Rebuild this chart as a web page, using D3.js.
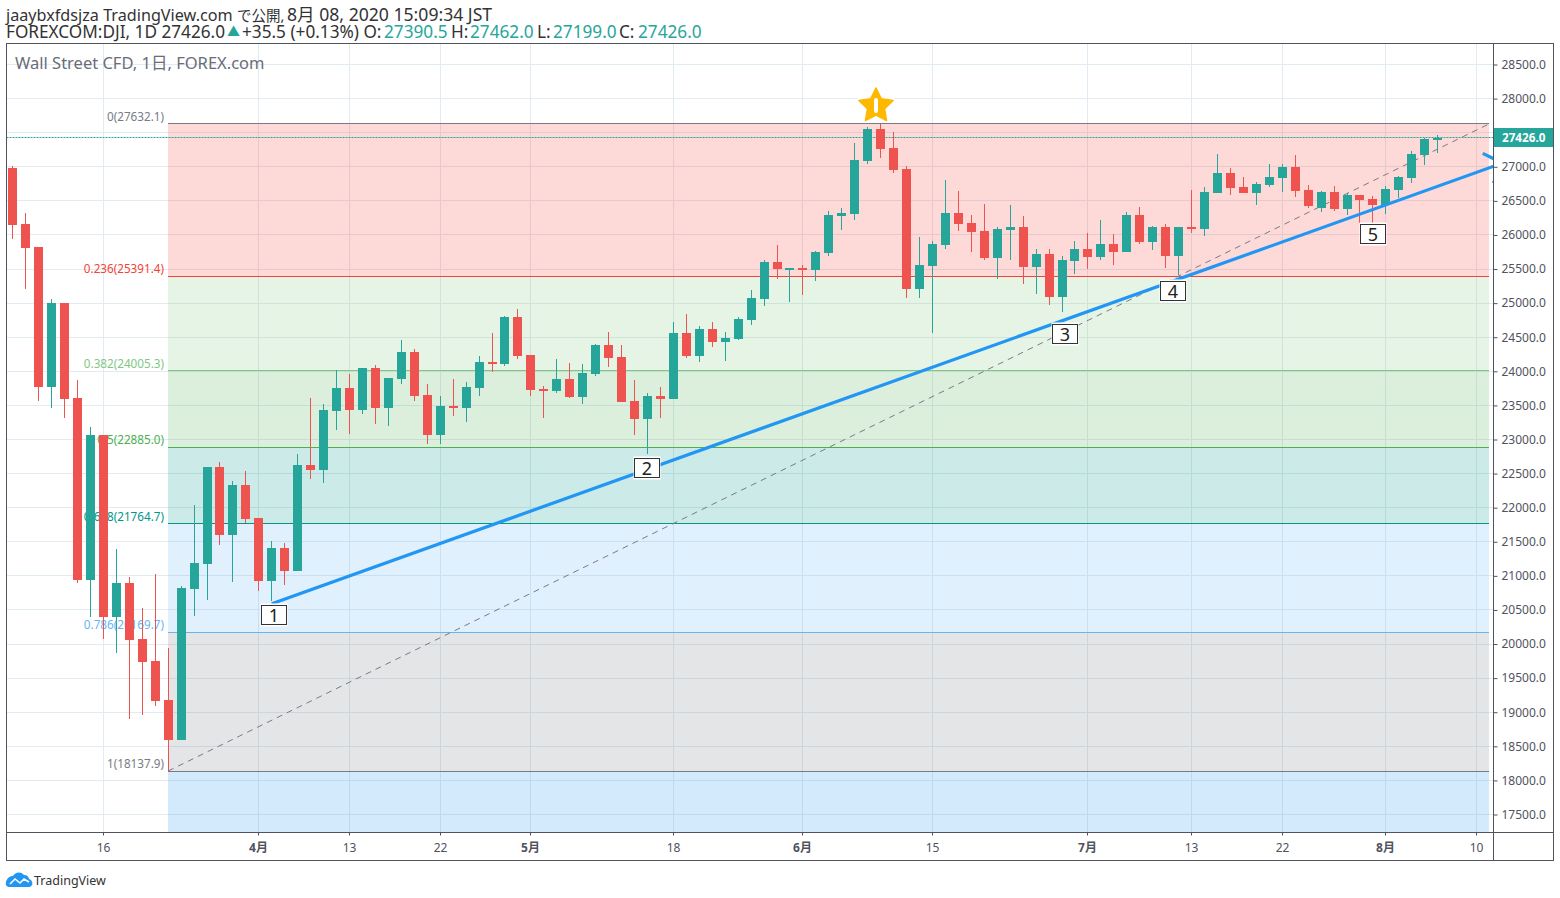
<!DOCTYPE html>
<html>
<head>
<meta charset="utf-8">
<script src="https://cdn.jsdelivr.net/npm/d3@7"></script>
<style>
html, body { margin: 0; padding: 0; background: #fff; }
svg { display: block; }
text { font-family: "Noto Sans", "Noto Sans CJK JP", sans-serif; }
</style>
</head>
<body>
<div id="viz"></div>
<script>
// candles, one per trading day, index 0 is 5 Mar 2020
var opens = [
  26980,26160,25825,23775,25000,23610,20940,23065,20400,20895,
  20075,19750,19180,18595,20810,21175,22595,21600,22335,21850,
  20925,21410,21070,22625,22555,23420,23755,23435,24050,23460,
  23885,24285,23655,23065,23490,23460,23755,24135,24105,24795,
  24240,23740,23710,23885,23625,23960,24385,24210,23565,23300,
  23640,23595,24560,24225,24620,24430,24475,24750,25060,25605,
  25500,25515,25485,25735,26275,26305,27085,27555,27275,26965,
  25205,25545,25850,26320,26175,26055,25660,26070,26115,25530,
  25720,25090,25615,25795,25675,25865,25750,26290,25895,26115,
  25690,26115,26085,26615,26910,26700,26615,26730,26835,26995,
  26660,26395,26630,26380,26585,26525,26440,26660,26835,27170,27390.5
];
var highs = [
  27010,26325,25825,25060,25000,23875,23185,23065,21395,20985,
  20530,21030,19945,20850,22040,22595,22670,22390,22540,21850,
  21510,21480,22785,23610,23520,24020,23960,24050,24090,23900,
  24460,24325,23815,23640,23885,23845,24225,24560,24810,24915,
  24240,23785,24180,24120,24105,24400,24575,24385,23875,23680,
  23770,24725,24840,24665,24725,24575,24795,25190,25630,25850,
  25515,25560,25765,26350,26395,27350,27580,27632,27510,27010,
  25970,25910,26805,26645,26290,26455,26115,26440,26275,25795,
  25795,25690,25910,26030,26220,26015,26335,26410,26130,26160,
  26115,26660,26700,27185,26980,26850,26775,27040,27040,27170,
  26730,26645,26715,26615,26585,26570,26715,26865,27230,27420,27462
];
var lows = [
  25940,25205,23565,23465,23320,20895,20400,20075,19875,18900,
  18960,19090,18138,18595,20415,20645,21455,20910,21775,20780,
  20630,20865,21070,22420,22360,23140,23080,23375,23225,23200,
  23815,23565,22935,22935,23345,23255,23640,23990,24080,24180,
  23640,23315,23680,23610,23520,23930,24065,23550,23065,22785,
  23315,23595,24195,24135,24355,24150,24460,24680,24960,25355,
  25015,25120,25325,25690,26070,26220,27040,27130,26910,25075,
  25075,24560,25795,26055,25750,25630,25355,25630,25280,25135,
  24970,24870,25425,25500,25630,25560,25750,25865,25780,25515,
  25410,26030,25985,26615,26585,26615,26440,26700,26630,26555,
  26395,26335,26350,26290,26175,26175,26305,26540,26760,27025,27199
];
var closes = [
  26145,25810,23775,25000,23595,20940,23065,20400,20895,20060,
  19735,19165,18595,20825,21190,22595,21600,22335,21835,20925,
  21410,21070,22625,22555,23435,23755,23435,24050,23460,23900,
  24285,23640,23065,23490,23460,23770,24135,24105,24795,24225,
  23725,23710,23885,23625,23975,24385,24195,23550,23300,23640,
  23595,24560,24225,24620,24430,24490,24765,25075,25605,25500,
  25515,25485,25750,26290,26320,27100,27555,27260,26950,25205,
  25560,25865,26320,26160,26045,25660,26085,26115,25530,25720,
  25090,25630,25795,25675,25865,25750,26290,25895,26115,25690,
  26115,26085,26630,26910,26690,26615,26745,26850,26995,26645,
  26425,26630,26380,26585,26510,26440,26675,26850,27185,27405,27426
];

var priceTicks = [17500,18000,18500,19000,19500,20000,20500,21000,21500,22000,22500,
  23000,23500,24000,24500,25000,25500,26000,26500,27000,27500,28000,28500];
var dateTickIdx = [7,19,26,33,40,51,61,71,83,91,98,106,113];
var dateTickLabels = ["16","4月","13","22","5月","18","6月","15","7月","13","22","8月","10"];

// fib retracement
var fibRatios = [0,0.236,0.382,0.5,0.618,0.786,1];
var fibPrices = [27632.1,25391.4,24005.3,22885.0,21764.7,20169.7,18137.9];
var fibColors = ["#787b86","#f44336","#81c784","#4caf50","#009688","#64b5f6","#787b86"];
var fibFills = ["#f44336","#81c784","#4caf50","#009688","#64b5f6","#787b86","#2196f3"];
var fibStart = 12, fibEnd = 114;

// hand drawn wave line and its numbered labels
var trendIdx = [20,115];
var trendPrice = [20590,27054];
var waveText = ["1","2","3","4","5"];
var waveIdx = [20.2,49,81.2,89.6,105];
var wavePrice = [20427,22582,24547,25178,26013];

var lastPrice = 27426.0;

var W = 1560, H = 898;
var paneL = 6.5, paneT = 43.5, paneR = 1493.5, paneB = 832.5, outerR = 1553.5, outerB = 860.5;

var x = d3.scaleLinear().domain([0,110]).range([12.7,1437.7]);
var y = d3.scaleLinear().domain([17500,28500]).range([814.5,64.5]);

function crisp(v) { return Math.floor(v) + 0.5; }

var svg = d3.select("#viz").append("svg").attr("width",W).attr("height",H);
svg.append("defs").append("clipPath").attr("id","pane").append("rect")
  .attr("x",paneL).attr("y",paneT).attr("width",paneR-paneL).attr("height",paneB-paneT);

var pane = svg.append("g").attr("clip-path","url(#pane)");

// grid
pane.selectAll(".gy").data(priceTicks).enter().append("line")
  .attr("x1",paneL).attr("x2",paneR)
  .attr("y1",function(d){return crisp(y(d));}).attr("y2",function(d){return crisp(y(d));})
  .attr("stroke","#e1ecf2");
pane.selectAll(".gx").data(dateTickIdx).enter().append("line")
  .attr("y1",paneT).attr("y2",paneB)
  .attr("x1",function(d){return crisp(x(d));}).attr("x2",function(d){return crisp(x(d));})
  .attr("stroke","#e1ecf2");

// fib bands, the last one runs on below the 1 level
var fibX0 = Math.round(x(fibStart)), fibX1 = Math.floor(x(fibEnd));
pane.selectAll(".band").data(fibPrices).enter().append("rect")
  .attr("x",fibX0).attr("width",fibX1-fibX0)
  .attr("y",function(d){return crisp(y(d));})
  .attr("height",function(d,i){
    var next = i+1 < fibPrices.length ? crisp(y(fibPrices[i+1])) : paneB;
    return next - crisp(y(d));
  })
  .attr("fill",function(d,i){return fibFills[i];})
  .attr("fill-opacity",0.2);
pane.selectAll(".fibline").data(fibPrices).enter().append("line")
  .attr("x1",fibX0).attr("x2",fibX1)
  .attr("y1",function(d){return crisp(y(d));}).attr("y2",function(d){return crisp(y(d));})
  .attr("stroke",function(d,i){return fibColors[i];});
pane.selectAll(".fibtext").data(fibPrices).enter().append("text")
  .attr("x",fibX0-4).attr("y",function(d){return y(d)-3;})
  .attr("text-anchor","end").attr("font-size",11.7)
  .attr("fill",function(d,i){return fibColors[i];})
  .text(function(d,i){return fibRatios[i]+"("+d.toFixed(1)+")";});
pane.append("line")
  .attr("x1",x(fibStart)).attr("y1",y(fibPrices[6]))
  .attr("x2",x(fibEnd)).attr("y2",y(fibPrices[0]))
  .attr("stroke","#787b86").attr("stroke-dasharray","6 5");

// last price line
pane.append("line")
  .attr("x1",paneL).attr("x2",paneR)
  .attr("y1",crisp(y(lastPrice))).attr("y2",crisp(y(lastPrice)))
  .attr("stroke","#26a69a").attr("stroke-dasharray","2 1");

// candles
var UP = "#26a69a", DOWN = "#ef5350";
var candle = pane.selectAll(".candle").data(d3.range(opens.length)).enter().append("g")
  .attr("fill",function(i){return closes[i] >= opens[i] ? UP : DOWN;});
candle.append("rect")
  .attr("x",function(i){return Math.round(x(i)-4.5)+4;})
  .attr("width",1)
  .attr("y",function(i){return Math.round(y(highs[i]));})
  .attr("height",function(i){return Math.max(1,Math.round(y(lows[i]))-Math.round(y(highs[i])));});
candle.append("rect")
  .attr("x",function(i){return Math.round(x(i)-4.5);})
  .attr("width",9)
  .attr("y",function(i){return Math.round(y(Math.max(opens[i],closes[i])));})
  .attr("height",function(i){return Math.max(2,Math.round(y(Math.min(opens[i],closes[i])))-Math.round(y(Math.max(opens[i],closes[i]))));});

// blue trend line with arrow head
var tx0 = x(trendIdx[0]), ty0 = y(trendPrice[0]), tx1 = x(trendIdx[1]), ty1 = y(trendPrice[1]);
var ang = Math.atan2(ty0-ty1, tx0-tx1);
var barb = 22, spread = 46*Math.PI/180;
var arrow = d3.path();
arrow.moveTo(tx0,ty0); arrow.lineTo(tx1,ty1);
arrow.moveTo(tx1+barb*Math.cos(ang+spread),ty1+barb*Math.sin(ang+spread));
arrow.lineTo(tx1,ty1);
arrow.lineTo(tx1+barb*Math.cos(ang-spread),ty1+barb*Math.sin(ang-spread));
pane.append("path").attr("d",arrow.toString())
  .attr("fill","none").attr("stroke","#2196f3").attr("stroke-width",3.2);

// wave labels
var wave = pane.selectAll(".wave").data(waveText).enter().append("g")
  .attr("transform",function(d,i){return "translate("+Math.round(x(waveIdx[i]))+","+Math.round(y(wavePrice[i]))+")";});
wave.append("rect").attr("x",-13.5).attr("y",-11.5).attr("width",27).attr("height",23).attr("fill","#fff");
wave.append("rect").attr("x",-12.5).attr("y",-9.5).attr("width",25).attr("height",19)
  .attr("fill","#fff").attr("stroke","#333").attr("stroke-width",1);
wave.append("text").attr("text-anchor","middle").attr("y",6.5).attr("font-size",18).attr("fill","#222").text(function(d){return d;});

// star marker over the high, fatter than d3.symbolStar
var starR = 18, starPts = d3.range(10).map(function(i){ return [i*Math.PI/5, i%2 ? starR*0.5 : starR]; });
var starPath = d3.lineRadial().curve(d3.curveLinearClosed)(starPts);
var starG = pane.append("g").attr("transform","translate(876,"+Math.round(y(fibPrices[0])-18)+")");
starG.append("path").attr("d",starPath)
  .attr("fill","#ffb800").attr("stroke","#fff").attr("stroke-width",5).attr("stroke-linejoin","round");
starG.append("path").attr("d",starPath)
  .attr("fill","#ffb800").attr("stroke","#ffb800").attr("stroke-width",1.5).attr("stroke-linejoin","round");
starG.append("rect").attr("x",-2).attr("y",-8).attr("width",4).attr("height",15).attr("rx",2).attr("fill","#fff");

// title in the pane
svg.append("text").attr("x",15).attr("y",69).attr("font-size",16.5).attr("fill","#6a6d78").text("Wall Street CFD, 1日, FOREX.com");

// frames
svg.append("rect").attr("x",paneL).attr("y",paneT).attr("width",outerR-paneL).attr("height",outerB-paneT)
  .attr("fill","none").attr("stroke","#50535e");
svg.append("line").attr("x1",paneR).attr("x2",paneR).attr("y1",paneT).attr("y2",outerB).attr("stroke","#50535e");
svg.append("line").attr("x1",paneL).attr("x2",outerR).attr("y1",paneB).attr("y2",paneB).attr("stroke","#50535e");

// axes, the price tag sits where the 27500 label would be
var shownPrices = priceTicks.filter(function(d){return Math.abs(y(d)-y(lastPrice)) > 12;});
var yAxis = d3.axisRight(y).tickValues(shownPrices).tickFormat(d3.format(".1f")).tickSize(4).tickPadding(4);
var gy = svg.append("g").attr("transform","translate("+paneR+",0)").call(yAxis);
var xAxis = d3.axisBottom(x).tickValues(dateTickIdx).tickFormat(function(d,i){return dateTickLabels[i];}).tickSize(3).tickPadding(8);
var gx = svg.append("g").attr("transform","translate(0,"+paneB+")").call(xAxis);
gy.select(".domain").remove(); gx.select(".domain").remove();
gx.selectAll(".tick").attr("transform",function(d){return "translate("+crisp(x(d))+",0)";});
gy.selectAll("text").attr("font-size",12).attr("fill","#50535e");
gy.attr("font-family",null); gx.attr("font-family",null);
gx.selectAll("text").attr("font-size",12).attr("fill","#50535e")
  .attr("font-weight",function(d,i){return dateTickLabels[i].indexOf("月")>=0 ? 700 : 400;});
gy.selectAll("line").attr("stroke","#50535e"); gx.selectAll("line").attr("stroke","#50535e");

// last price tag
var tagY = Math.round(y(lastPrice));
svg.append("rect").attr("x",paneR+0.5).attr("y",tagY-10).attr("width",outerR-paneR-1).attr("height",19).attr("fill",UP);
svg.append("text").attr("x",1502).attr("y",tagY+4).attr("font-size",11.7).attr("font-weight",700).attr("fill","#fff").text(lastPrice.toFixed(1));

// header
var head1 = svg.append("text").attr("x",6).attr("y",21).attr("font-size",16.2).attr("fill","#333");
head1.append("tspan").text("jaaybxfdsjza TradingView.com");
head1.append("tspan").attr("x",237).attr("font-size",14.5).text("で公開,");
head1.append("tspan").attr("x",287).attr("font-size",17.6).text("8月 08, 2020 15:09:34 JST");
var head = svg.append("text").attr("x",6).attr("y",38).attr("font-size",17.2).attr("fill","#333");
head.append("tspan").text("FOREXCOM:DJI, 1D 27426.0");
head.append("tspan").attr("x",227).attr("fill",UP).attr("font-size",13).attr("dy",-2).text("▲");
head.append("tspan").attr("x",242).attr("dy",2).text("+35.5 (+0.13%) O:");
head.append("tspan").attr("x",384).attr("fill",UP).text("27390.5");
head.append("tspan").attr("x",451).text("H:");
head.append("tspan").attr("x",470).attr("fill",UP).text("27462.0");
head.append("tspan").attr("x",537).text("L:");
head.append("tspan").attr("x",553).attr("fill",UP).text("27199.0");
head.append("tspan").attr("x",619).text("C:");
head.append("tspan").attr("x",638).attr("fill",UP).text("27426.0");

// logo
var logo = svg.append("g").attr("transform","translate(6,872)");
logo.append("path").attr("d","M0 10 C1 6 4 4 7 4 C9 0 15 -1 18 3 C21 3 23 5 23 7 C26 8 27 11 26 13 C25 15 23 15 22 15 L4 15 C1 15 -1 13 0 10 Z").attr("fill","#2196f3");
logo.append("path").attr("d","M4 12 L9 7 L14 11 L18 7 L23 10").attr("fill","none").attr("stroke","#fff").attr("stroke-width",1.6);
svg.append("text").attr("x",34).attr("y",884.5).attr("font-size",12.5).attr("fill","#333").text("TradingView");
</script>
</body>
</html>
